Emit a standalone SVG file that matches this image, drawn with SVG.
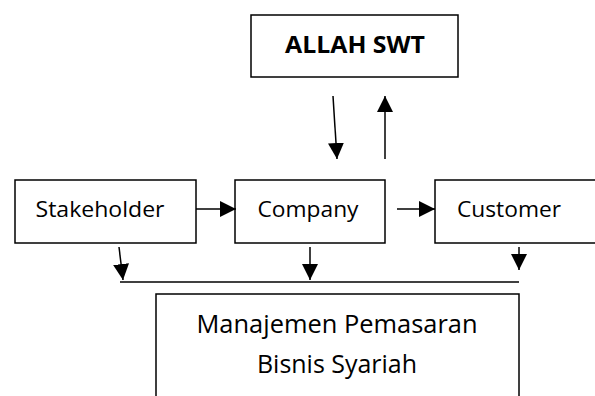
<svg xmlns="http://www.w3.org/2000/svg" width="595" height="396" viewBox="0 0 595 396">
<defs>
<marker id="ahb" markerWidth="16" markerHeight="16" viewBox="0 0 16 16" refX="16" refY="8" orient="auto" markerUnits="userSpaceOnUse">
<path d="M0,0 L16,8 L0,16 Z" fill="#000"/>
</marker>
</defs>
<style>
.box{fill:#fff;stroke:#000;stroke-width:1.5}
.t{font-family:"Open Sans","Noto Sans",sans-serif;font-size:21px;fill:#000;text-anchor:middle}
.b{font-weight:bold;font-size:23px}
.m{font-size:25px}
.c{stroke:#000;stroke-width:1.5;fill:none}
</style>
<g id="allah">
<rect class="box" x="251" y="15" width="207" height="62"/>
<text class="t b" x="355" y="53" textLength="140" lengthAdjust="spacingAndGlyphs">ALLAH SWT</text>
</g>
<g id="stakeholder">
<rect class="box" x="15" y="180" width="181" height="63"/>
<text class="t" x="100" y="217" textLength="129" lengthAdjust="spacingAndGlyphs">Stakeholder</text>
</g>
<g id="company">
<rect class="box" x="235" y="180" width="150" height="63"/>
<text class="t" x="308" y="217" textLength="101" lengthAdjust="spacingAndGlyphs">Company</text>
</g>
<g id="customer">
<rect class="box" x="435" y="180" width="170" height="63"/>
<text class="t" x="509" y="217" textLength="104" lengthAdjust="spacingAndGlyphs">Customer</text>
</g>
<g id="manajemen">
<rect class="box" x="156" y="294" width="363" height="120"/>
<text class="t m" x="337" y="333" textLength="281" lengthAdjust="spacingAndGlyphs">Manajemen Pemasaran</text>
<text class="t m" x="337" y="373" textLength="160" lengthAdjust="spacingAndGlyphs">Bisnis Syariah</text>
</g>
<g id="connectors">
<line class="c" x1="333" y1="96" x2="337" y2="159" marker-end="url(#ahb)"/>
<line class="c" x1="385" y1="159" x2="385" y2="96" marker-end="url(#ahb)"/>
<line class="c" x1="196" y1="209" x2="236" y2="209" marker-end="url(#ahb)"/>
<line class="c" x1="397" y1="209" x2="435" y2="209" marker-end="url(#ahb)"/>
<line class="c" x1="119" y1="247" x2="123" y2="280" marker-end="url(#ahb)"/>
<line class="c" x1="310" y1="247" x2="310" y2="280" marker-end="url(#ahb)"/>
<line class="c" x1="519" y1="247" x2="519" y2="270" marker-end="url(#ahb)"/>
<line class="c" x1="120" y1="282" x2="519" y2="282"/>
</g>
</svg>
